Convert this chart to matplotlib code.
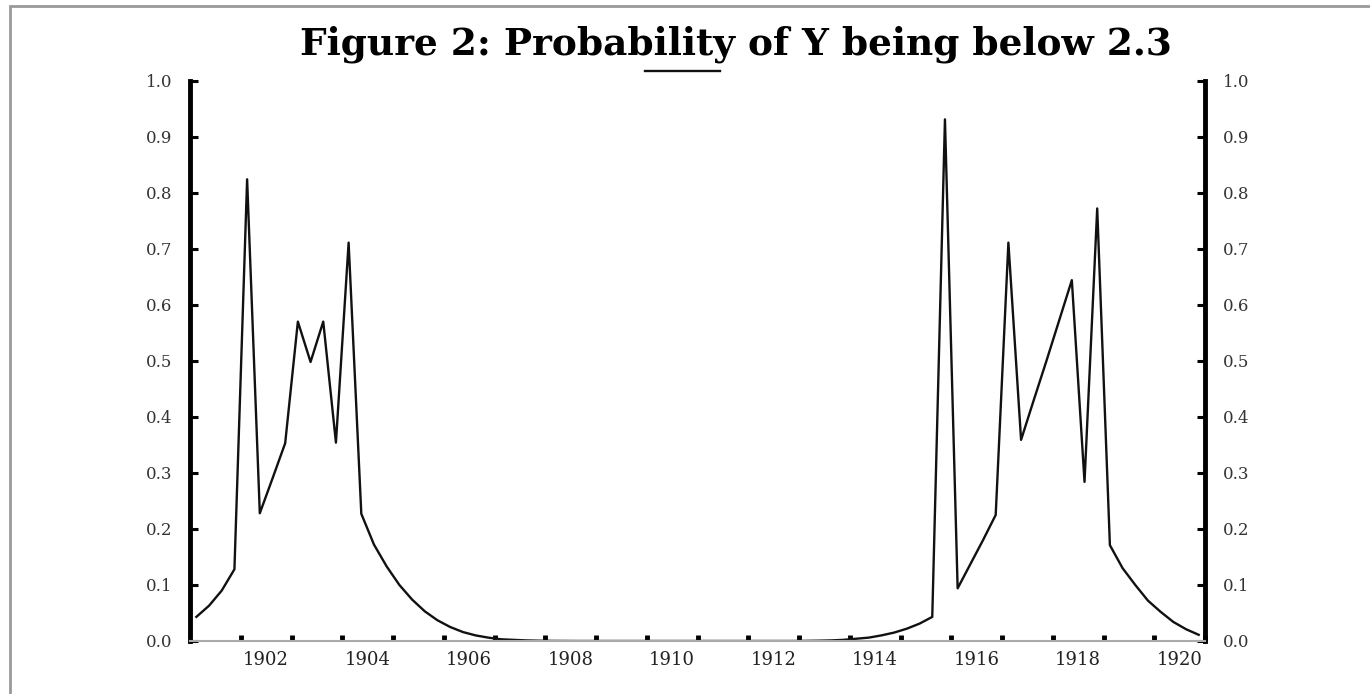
import matplotlib.pyplot as plt
import numpy as np
from matplotlib.patches import Rectangle

# quarterly observations, 1900Q3 .. 1920Q2 (plotted at mid-quarter)
start_year = 1900.625
prob = [0.043, 0.063, 0.090, 0.128, 0.824, 0.228, 0.290, 0.353,
        0.570, 0.498, 0.570, 0.354, 0.711, 0.227, 0.172, 0.133,
        0.100, 0.074, 0.053, 0.037, 0.025, 0.016, 0.010, 0.006,
        0.003, 0.002, 0.001, 0.0005, 0.0002, 0.0001, 0.0, 0.0,
        0.0, 0.0, 0.0, 0.0, 0.0, 0.0, 0.0, 0.0,
        0.0, 0.0, 0.0, 0.0, 0.0, 0.0, 0.0, 0.0,
        0.0002, 0.0005, 0.001, 0.002, 0.004, 0.006, 0.010, 0.015,
        0.022, 0.031, 0.043, 0.931, 0.094, 0.137, 0.180, 0.225,
        0.711, 0.359, 0.430, 0.500, 0.572, 0.644, 0.284, 0.772,
        0.171, 0.130, 0.100, 0.072, 0.052, 0.034, 0.021, 0.011]
years = start_year + 0.25 * np.arange(len(prob))

year_labels = [1902, 1904, 1906, 1908, 1910, 1912, 1914, 1916, 1918, 1920]
y_ticks = [0.0, 0.1, 0.2, 0.3, 0.4, 0.5, 0.6, 0.7, 0.8, 0.9, 1.0]

plt.rcParams['font.family'] = 'DejaVu Serif'

fig = plt.figure(figsize=(13.7, 6.94), dpi=100)
ax = fig.add_axes([0.1387, 0.0764, 0.7409, 0.8073])

line, = ax.plot(years, prob, color='#111111', linewidth=1.7)

ax.set_xlim(1900.5, 1920.5)
ax.set_ylim(0, 1.0)

# spines
ax.spines['top'].set_visible(False)
ax.spines['left'].set_linewidth(3.5)
ax.spines['right'].set_linewidth(3.5)
ax.spines['bottom'].set_color('#aaaaaa')
ax.spines['bottom'].set_linewidth(1.5)

# y ticks on both sides, pointing in
ax.set_yticks(y_ticks)
ax.set_yticklabels(['%.1f' % v for v in y_ticks])
ax.tick_params(axis='y', direction='in', length=6, width=2.2, color='black',
               left=True, right=True, labelleft=True, labelright=True,
               pad=13, labelsize=12, labelcolor='#333333')

# x: small square ticks at mid-years, labels at even years
ax.set_xticks(np.arange(1901.5, 1920.6, 1.0), minor=True)
ax.set_xticks(year_labels)
ax.set_xticklabels([str(y) for y in year_labels])
ax.tick_params(axis='x', which='major', length=0, pad=7, labelsize=13,
               labelcolor='#222222')
ax.tick_params(axis='x', which='minor', direction='in', length=4, width=3.5,
               color='black')

fig.text(0.537, 0.9366, 'Figure 2: Probability of Y being below 2.3',
         ha='center', va='center', fontsize=27, fontweight='bold')

fig.legend([line], [''], loc='center', bbox_to_anchor=(0.498, 0.896),
           frameon=False, handlelength=5.4, handletextpad=0, borderpad=0,
           fontsize=10)

# grey frame, partly cut off at the right and bottom
fig.patches.append(Rectangle((10 / 1370, -0.1), 1.2, 1.1 - 6 / 694,
                             transform=fig.transFigure, fill=False,
                             edgecolor='#999999', linewidth=2))

fig.savefig('out.png', dpi=100, facecolor='white')
